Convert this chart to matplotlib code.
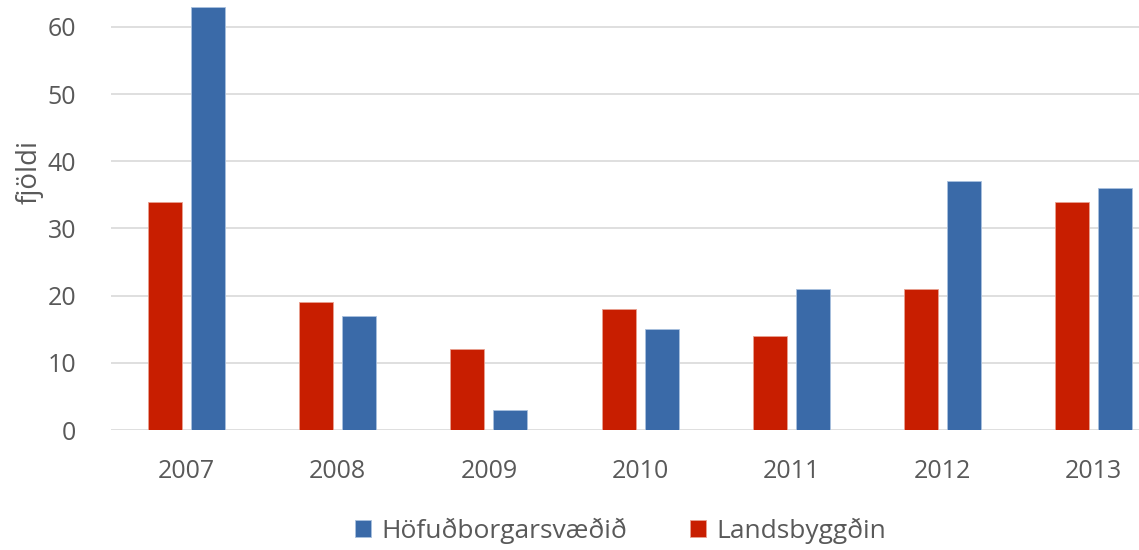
import matplotlib
matplotlib.use("Agg")
import matplotlib.pyplot as plt
import numpy as np

# data
years = ["2007", "2008", "2009", "2010", "2011", "2012", "2013"]
landsbyggdin = [34, 19, 12, 18, 14, 21, 34]
hofudborg = [63, 17, 3, 15, 21, 37, 36]

RED = "#C81E00"
BLUE = "#3A6AA8"
GRID = "#D9D9D9"
TEXT = "#595959"

plt.rcParams["font.family"] = ["Open Sans", "DejaVu Sans"]

fig = plt.figure(figsize=(11.39, 5.50), dpi=100)
ax = fig.add_axes([111 / 1139, 120 / 550, 1028 / 1139, 430 / 550])

x = np.arange(len(years))
w = 0.225
b_red = ax.bar(x - 0.142, landsbyggdin, w, color=RED, edgecolor="#E8A090",
               linewidth=0.6, label="Landsbyggðin", zorder=3)
b_blue = ax.bar(x + 0.142, hofudborg, w, color=BLUE, edgecolor="#A9C0DE",
                linewidth=0.6, label="Höfuðborgarsvæðið", zorder=3)

ax.set_xlim(-0.5, 6.30)
ax.set_ylim(0, 64)
ax.set_yticks(range(0, 61, 10))
ax.set_xticks(x)
ax.set_xticklabels(years)
ax.grid(axis="y", color=GRID, linewidth=1.2, zorder=0)
ax.set_axisbelow(True)
for s in ax.spines.values():
    s.set_visible(False)
ax.tick_params(axis="y", length=0, pad=25, labelsize=18, labelcolor=TEXT)
ax.tick_params(axis="x", length=0, pad=21, labelsize=18, labelcolor=TEXT)

ax.set_ylabel("fjöldi", fontsize=20, color=TEXT)
ax.yaxis.set_label_coords(-0.066, 0.6)

fig.legend([b_blue, b_red], ["Höfuðborgarsvæðið", "Landsbyggðin"],
           loc="center", bbox_to_anchor=(0.545, 0.035), ncol=2, frameon=False,
           fontsize=19, labelcolor=TEXT, handlelength=0.6, handleheight=0.6,
           handletextpad=0.4, columnspacing=2.4)

fig.savefig("out.png", dpi=100, facecolor="white")
